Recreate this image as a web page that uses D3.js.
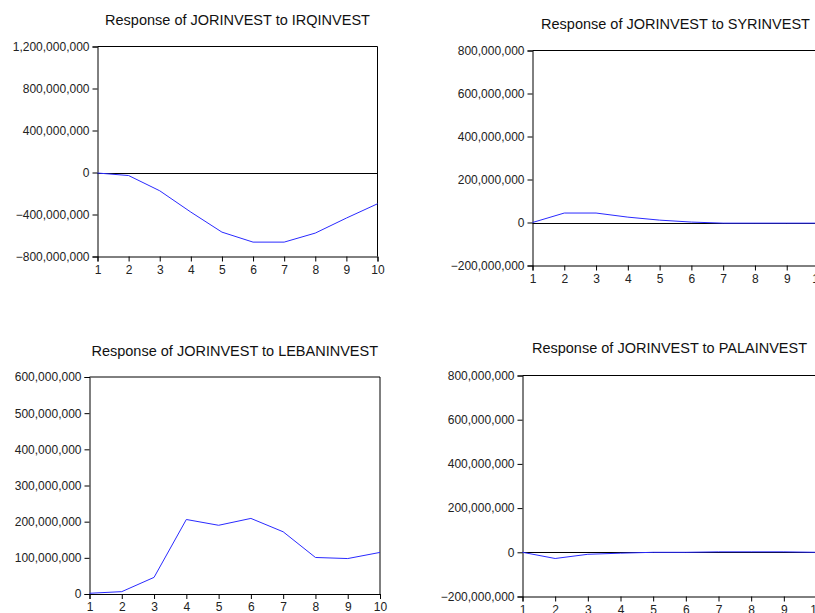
<!DOCTYPE html>
<html>
<head>
<meta charset="utf-8">
<script src="https://cdn.jsdelivr.net/npm/d3@7"></script>
<style>
  body { margin: 0; background: #fff; }
  svg { display: block; font-family: "Liberation Sans", Arial, sans-serif; }
</style>
</head>
<body>
<div id="chart"></div>
<script>
// periods of the impulse response
const periods = [1, 2, 3, 4, 5, 6, 7, 8, 9, 10];

// responses of JORINVEST
const irqValues = [-5e6, -29e6, -174e6, -377e6, -568e6, -663e6, -663e6, -577e6, -434e6, -298e6];
const syrValues = [0, 44e6, 44e6, 25e6, 11e6, 2e6, -3e6, -3e6, -3e6, -3e6];
const lebanValues = [2e6, 6.5e6, 46e6, 206e6, 190e6, 209e6, 172e6, 101e6, 98e6, 115e6];
const palaValues = [0, -28e6, -9e6, -4e6, 0, 0, 2e6, 2e6, 2e6, 0];

const titles = [
    "Response of JORINVEST to IRQINVEST",
    "Response of JORINVEST to SYRINVEST",
    "Response of JORINVEST to LEBANINVEST",
    "Response of JORINVEST to PALAINVEST"
];

const yTicks = [
    [-800e6, -400e6, 0, 400e6, 800e6, 1200e6],
    [-200e6, 0, 200e6, 400e6, 600e6, 800e6],
    [0, 100e6, 200e6, 300e6, 400e6, 500e6, 600e6],
    [-200e6, 0, 200e6, 400e6, 600e6, 800e6]
];

const series = [irqValues, syrValues, lebanValues, palaValues];

// panel boxes (layout only)
const panels = [
    { left: 97.5, right: 377.5, top: 46.5, bottom: 256.5, titleY: 25, xPad: 4 },
    { left: 532.5, right: 818.5, top: 50.5, bottom: 265.5, titleY: 29, xPad: 4 },
    { left: 89.5, right: 380, top: 377, bottom: 594, titleY: 356, xPad: 3 },
    { left: 522.5, right: 816.5, top: 375.5, bottom: 596.5, titleY: 353, xPad: 4 }
];

const svg = d3.select("#chart")
    .append("svg")
    .attr("width", 815)
    .attr("height", 613);

const fmt = d3.format(",");

panels.forEach((p, i) => {
    const values = series[i];
    const ticks = yTicks[i];

    const x = d3.scaleLinear()
        .domain([1, 10])
        .range([p.left, p.right]);

    const y = d3.scaleLinear()
        .domain([ticks[0], ticks[ticks.length - 1]])
        .range([p.bottom, p.top]);

    const g = svg.append("g");

    // frame: top and right
    g.append("path")
        .attr("d", `M${p.left},${p.top}H${p.right}V${p.bottom}`)
        .attr("fill", "none")
        .attr("stroke", "#000")
        .attr("stroke-width", 1);

    // zero line
    g.append("line")
        .attr("x1", p.left).attr("x2", p.right)
        .attr("y1", Math.round(y(0)) + 0.5).attr("y2", Math.round(y(0)) + 0.5)
        .attr("stroke", "#000")
        .attr("stroke-width", 1);

    // y axis
    const yAxis = g.append("g")
        .attr("transform", `translate(${p.left},0)`)
        .call(d3.axisLeft(y).tickValues(ticks).tickFormat(fmt).tickSize(5).tickPadding(3));

    // x axis
    const xAxis = g.append("g")
        .attr("transform", `translate(0,${p.bottom})`)
        .call(d3.axisBottom(x).tickValues(periods).tickFormat(d3.format("d")).tickSize(5).tickPadding(p.xPad));

    [yAxis, xAxis].forEach(a => {
        a.select(".domain").attr("stroke", "#000");
        a.selectAll(".tick line").attr("stroke", "#000");
        a.selectAll("text")
            .attr("fill", "#222")
            .style("font-size", "12px")
            .style("font-family", "'Liberation Sans', Arial, sans-serif");
    });

    // response line
    const line = d3.line()
        .x((d, j) => x(periods[j]))
        .y(d => y(d));

    g.append("path")
        .datum(values)
        .attr("d", line)
        .attr("fill", "none")
        .attr("stroke", "#2a2aff")
        .attr("stroke-width", 1);

    // title
    g.append("text")
        .attr("x", (p.left + p.right) / 2)
        .attr("y", p.titleY)
        .attr("text-anchor", "middle")
        .style("font-size", "14.5px")
        .attr("fill", "#111")
        .text(titles[i]);
});
</script>
</body>
</html>
